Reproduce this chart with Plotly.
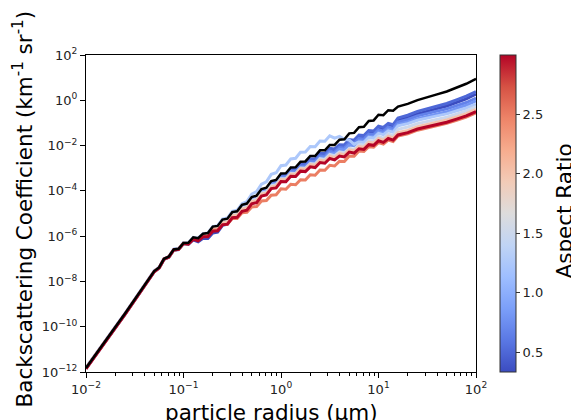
import numpy as np
import plotly.graph_objects as go
from plotly.colors import sample_colorscale

# ---------------- data (log10 values) ----------------
RADIUS_LOG10 = [-2.0, -1.6,
                -1.3, -1.25, -1.2, -1.15, -1.1, -1.05, -1.0, -0.95, -0.9, -0.85,
                -0.8, -0.75, -0.7, -0.65, -0.6, -0.55, -0.5, -0.45, -0.4, -0.35,
                -0.3, -0.25, -0.2, -0.15, -0.1, -0.05, 0.0, 0.05, 0.1, 0.15,
                0.2, 0.25, 0.3, 0.35, 0.4, 0.45, 0.5, 0.55, 0.6, 0.65,
                0.7, 0.75, 0.8, 0.85, 0.9, 0.95, 1.0, 1.05, 1.1, 1.15, 1.2,
                1.3, 1.4, 1.5, 1.6, 1.7, 1.8, 1.9, 2.0]

ASPECT_RATIOS = [0.33, 0.5, 0.67, 0.8, 1.25, 1.5, 2.0, 2.5, 3.0]

BSC_REFERENCE_LOG10 = [-11.82, -9.42,
    -7.54, -7.38, -7.00, -6.90, -6.59, -6.56,
    -6.30, -6.29, -6.05, -6.09, -5.89, -5.86, -5.58, -5.55, -5.27, -5.23, -4.94, -4.90,
    -4.62, -4.56, -4.27, -4.21, -3.92, -3.86, -3.57, -3.52, -3.23, -3.22, -2.97, -2.96,
    -2.71, -2.70, -2.46, -2.46, -2.21, -2.21, -1.97, -1.97, -1.74, -1.72, -1.46, -1.44,
    -1.19, -1.17, -0.91, -0.89, -0.64, -0.66, -0.44, -0.46, -0.28,
    -0.16, 0.01, 0.12, 0.26, 0.39, 0.56, 0.73, 0.95]

BSC_AR033_LOG10 = [-11.85, -9.45, -7.57, -7.41, -7.03, -6.93, -6.62, -6.59,
    -6.33, -6.36, -6.16, -6.25, -6.09, -6.10, -5.86, -5.82, -5.52, -5.47, -5.17, -5.11,
    -4.82, -4.75, -4.45, -4.39, -4.09, -4.02, -3.72, -3.68, -3.40, -3.40, -3.15, -3.15,
    -2.91, -2.90, -2.67, -2.67, -2.42, -2.43, -2.19, -2.22, -2.03, -2.04, -1.81, -1.83,
    -1.61, -1.63, -1.42, -1.44, -1.23, -1.29, -1.12, -1.18, -0.88,
    -0.76, -0.60, -0.50, -0.37, -0.25, -0.10, 0.06, 0.27]

BSC_AR050_LOG10 = [-11.83, -9.43, -7.55, -7.39, -7.01, -6.91, -6.60, -6.57,
    -6.32, -6.34, -6.13, -6.20, -6.03, -6.03, -5.78, -5.73, -5.44, -5.38, -5.07, -5.02,
    -4.72, -4.65, -4.35, -4.29, -3.99, -3.92, -3.62, -3.58, -3.30, -3.30, -3.05, -3.05,
    -2.81, -2.81, -2.58, -2.59, -2.34, -2.35, -2.12, -2.15, -1.96, -1.97, -1.74, -1.76,
    -1.54, -1.56, -1.34, -1.36, -1.14, -1.20, -1.02, -1.08, -0.78,
    -0.66, -0.49, -0.38, -0.26, -0.14, 0.02, 0.18, 0.38]

BSC_AR067_LOG10 = [-11.82, -9.42, -7.54, -7.38, -7.00, -6.90, -6.59, -6.56,
    -6.30, -6.31, -6.08, -6.14, -5.96, -5.94, -5.68, -5.64, -5.35, -5.31, -5.01, -4.96,
    -4.67, -4.62, -4.34, -4.30, -4.02, -3.97, -3.69, -3.65, -3.38, -3.38, -3.14, -3.15,
    -2.91, -2.91, -2.69, -2.70, -2.46, -2.48, -2.25, -2.29, -2.09, -2.11, -1.89, -1.90,
    -1.69, -1.71, -1.49, -1.51, -1.30, -1.36, -1.18, -1.24, -0.96,
    -0.85, -0.69, -0.60, -0.48, -0.38, -0.24, -0.10, 0.10]

BSC_AR080_LOG10 = [-11.82, -9.42, -7.54, -7.38, -7.00, -6.90, -6.59, -6.56,
    -6.30, -6.30, -6.07, -6.12, -5.92, -5.90, -5.63, -5.59, -5.30, -5.26, -4.96, -4.91,
    -4.62, -4.59, -4.32, -4.29, -4.02, -3.99, -3.72, -3.69, -3.42, -3.44, -3.21, -3.22,
    -2.99, -2.99, -2.76, -2.78, -2.54, -2.55, -2.32, -2.36, -2.17, -2.20, -1.98, -2.00,
    -1.79, -1.81, -1.59, -1.61, -1.40, -1.46, -1.28, -1.34, -1.06,
    -0.96, -0.81, -0.72, -0.61, -0.51, -0.36, -0.22, -0.02]

BSC_AR125_LOG10 = [-11.82, -9.42, -7.54, -7.38, -7.00, -6.90, -6.59, -6.56,
    -6.30, -6.29, -6.05, -6.09, -5.89, -5.86, -5.58, -5.54, -5.25, -5.20, -4.91, -4.86,
    -4.57, -4.47, -4.14, -4.03, -3.70, -3.60, -3.27, -3.20, -2.89, -2.86, -2.59, -2.56,
    -2.29, -2.28, -2.04, -2.05, -1.80, -1.81, -1.57, -1.67, -1.59, -1.72, -1.76, -1.94,
    -1.84, -1.86, -1.64, -1.67, -1.46, -1.52, -1.35, -1.41, -1.13,
    -1.03, -0.88, -0.80, -0.69, -0.60, -0.47, -0.34, -0.17]

BSC_AR150_LOG10 = [-11.82, -9.42, -7.54, -7.38, -7.00, -6.90, -6.59, -6.56,
    -6.30, -6.30, -6.07, -6.12, -5.92, -5.90, -5.63, -5.61, -5.34, -5.32, -5.04, -5.01,
    -4.74, -4.69, -4.42, -4.37, -4.09, -4.05, -3.77, -3.73, -3.46, -3.46, -3.22, -3.23,
    -2.99, -3.00, -2.79, -2.81, -2.58, -2.61, -2.39, -2.45, -2.28, -2.32, -2.12, -2.16,
    -1.97, -2.00, -1.78, -1.81, -1.60, -1.67, -1.49, -1.56, -1.28,
    -1.18, -1.03, -0.94, -0.84, -0.75, -0.61, -0.47, -0.28]

BSC_AR200_LOG10 = [-11.83, -9.43, -7.55, -7.39, -7.01, -6.91, -6.60, -6.57,
    -6.31, -6.32, -6.09, -6.15, -5.96, -5.95, -5.68, -5.66, -5.40, -5.37, -5.09, -5.07,
    -4.80, -4.75, -4.47, -4.43, -4.14, -4.10, -3.82, -3.78, -3.50, -3.51, -3.27, -3.27,
    -3.03, -3.05, -2.84, -2.87, -2.65, -2.68, -2.47, -2.53, -2.36, -2.40, -2.19, -2.23,
    -2.04, -2.07, -1.86, -1.89, -1.69, -1.76, -1.59, -1.66, -1.43,
    -1.33, -1.17, -1.08, -0.97, -0.87, -0.73, -0.59, -0.40]

BSC_AR250_LOG10 = [-11.84, -9.44, -7.56, -7.40, -7.02, -6.92, -6.61, -6.58,
    -6.32, -6.33, -6.11, -6.18, -6.00, -5.99, -5.73, -5.73, -5.49, -5.48, -5.22, -5.22,
    -4.97, -4.95, -4.71, -4.69, -4.45, -4.43, -4.19, -4.17, -3.91, -3.93, -3.71, -3.73,
    -3.51, -3.52, -3.29, -3.31, -3.08, -3.09, -2.87, -2.90, -2.69, -2.70, -2.46, -2.47,
    -2.24, -2.26, -2.05, -2.07, -1.87, -1.93, -1.76, -1.82, -1.58,
    -1.48, -1.32, -1.23, -1.12, -1.02, -0.88, -0.74, -0.55]

BSC_AR300_LOG10 = [-11.86, -9.46, -7.57, -7.41, -7.02, -6.92, -6.61, -6.58,
    -6.33, -6.35, -6.14, -6.21, -6.03, -6.03, -5.78, -5.76, -5.50, -5.47, -5.19, -5.17,
    -4.90, -4.85, -4.57, -4.52, -4.23, -4.18, -3.90, -3.87, -3.59, -3.60, -3.36, -3.37,
    -3.13, -3.15, -2.94, -2.97, -2.75, -2.78, -2.57, -2.63, -2.46, -2.50, -2.29, -2.33,
    -2.14, -2.17, -1.96, -1.99, -1.79, -1.86, -1.69, -1.76, -1.53,
    -1.43, -1.27, -1.18, -1.07, -0.97, -0.83, -0.69, -0.50]

AR_SERIES = [BSC_AR033_LOG10, BSC_AR050_LOG10, BSC_AR067_LOG10, BSC_AR080_LOG10,
             BSC_AR125_LOG10, BSC_AR150_LOG10, BSC_AR200_LOG10, BSC_AR250_LOG10,
             BSC_AR300_LOG10]

AR_MIN, AR_MAX = 0.333, 3.0
CBAR_TICKS = [0.5, 1.0, 1.5, 2.0, 2.5]
CBAR_LABELS = ["0.5", "1.0", "1.5", "2.0", "2.5"]

X_TICK_VALS = [1e-2, 1e-1, 1e0, 1e1, 1e2]
X_TICK_TEXT = ["10<sup>−2</sup>", "10<sup>−1</sup>", "10<sup>0</sup>", "10<sup>1</sup>", "10<sup>2</sup>"]
Y_TICK_VALS = [1e-12, 1e-10, 1e-8, 1e-6, 1e-4, 1e-2, 1e0, 1e2]
Y_TICK_TEXT = ["10<sup>−12</sup>", "10<sup>−10</sup>", "10<sup>−8</sup>", "10<sup>−6</sup>",
               "10<sup>−4</sup>", "10<sup>−2</sup>", "10<sup>0</sup>", "10<sup>2</sup>"]

# ---------------- styling ----------------
COOLWARM = [[0.0, "#3b4cc0"], [0.1, "#5a78e4"], [0.2, "#7b9ff9"], [0.3, "#9ebeff"],
            [0.4, "#c0d4f5"], [0.5, "#dddcdc"], [0.6, "#f2cbb7"], [0.7, "#f7ac8e"],
            [0.8, "#ee8468"], [0.9, "#d65244"], [1.0, "#b40426"]]
FONT = "DejaVu Sans"

radius = np.power(10.0, np.array(RADIUS_LOG10))

fig = go.Figure()
for ar, ylog in zip(ASPECT_RATIOS, AR_SERIES):
    n = min(len(ylog), len(radius))
    col = sample_colorscale(COOLWARM, [(ar - AR_MIN) / (AR_MAX - AR_MIN)])[0]
    fig.add_trace(go.Scatter(x=radius[:n], y=np.power(10.0, np.array(ylog[:n])),
                             mode="lines", line=dict(color=col, width=3),
                             showlegend=False, hoverinfo="skip"))

fig.add_trace(go.Scatter(x=radius, y=np.power(10.0, np.array(BSC_REFERENCE_LOG10)),
                         mode="lines", line=dict(color="black", width=2.5),
                         showlegend=False, hoverinfo="skip"))

# colour bar carrier
fig.add_trace(go.Scatter(
    x=[None], y=[None], mode="markers", showlegend=False, hoverinfo="skip",
    marker=dict(color=[AR_MIN], cmin=AR_MIN, cmax=AR_MAX, colorscale=COOLWARM,
                showscale=True,
                colorbar=dict(x=1.0615, xanchor="left", y=0.5, yanchor="middle",
                              len=1.0, lenmode="fraction", thickness=16,
                              thicknessmode="pixels", xpad=0, ypad=0,
                              outlinewidth=1, outlinecolor="#333",
                              ticks="outside", ticklen=4, tickwidth=1, tickcolor="#333",
                              tickmode="array", tickvals=CBAR_TICKS, ticktext=CBAR_LABELS,
                              tickfont=dict(family=FONT, size=13, color="#222")))))

minor_x = [m * 10.0 ** e for e in range(-2, 2) for m in range(2, 10)]

axis_common = dict(type="log", showline=True, linecolor="black", linewidth=1, mirror=True,
                   ticks="outside", ticklen=5, tickwidth=1, tickcolor="black",
                   showgrid=False, zeroline=False, tickmode="array",
                   tickfont=dict(family=FONT, size=13, color="#222"))

# the page body keeps an 8 px default margin, so the figure is sized to fit inside it
fig.update_layout(
    width=571, height=412,
    margin=dict(l=78, r=103, t=47, b=48),
    paper_bgcolor="white", plot_bgcolor="white",
    font=dict(family=FONT, color="black"),
    xaxis=dict(axis_common, range=[-2, 2], tickvals=X_TICK_VALS, ticktext=X_TICK_TEXT,
               minor=dict(tickmode="array", tickvals=minor_x, ticks="outside",
                          ticklen=3, tickwidth=1, tickcolor="black", showgrid=False)),
    yaxis=dict(axis_common, range=[-12, 2], tickvals=Y_TICK_VALS, ticktext=Y_TICK_TEXT),
    annotations=[
        dict(text="particle radius (μm)", xref="paper", yref="paper", x=0.5, y=0,
             xanchor="center", yanchor="middle", yshift=-40, xshift=-10, showarrow=False,
             font=dict(family=FONT, size=21.5, color="black")),
        dict(text="Backscattering Coefficient (km<sup>-1</sup> sr<sup>-1</sup>)",
             xref="paper", yref="paper", x=-0.164, y=0.5, xanchor="center",
             yanchor="middle", textangle=-90, showarrow=False, yshift=4,
             font=dict(family=FONT, size=21.5, color="black")),
        dict(text="Aspect Ratio", xref="paper", yref="paper", x=1.2282, y=0.5,
             xanchor="center", yanchor="middle", textangle=-90, showarrow=False,
             yshift=3, font=dict(family=FONT, size=21.5, color="black")),
    ],
)

fig.write_html("out.html")
